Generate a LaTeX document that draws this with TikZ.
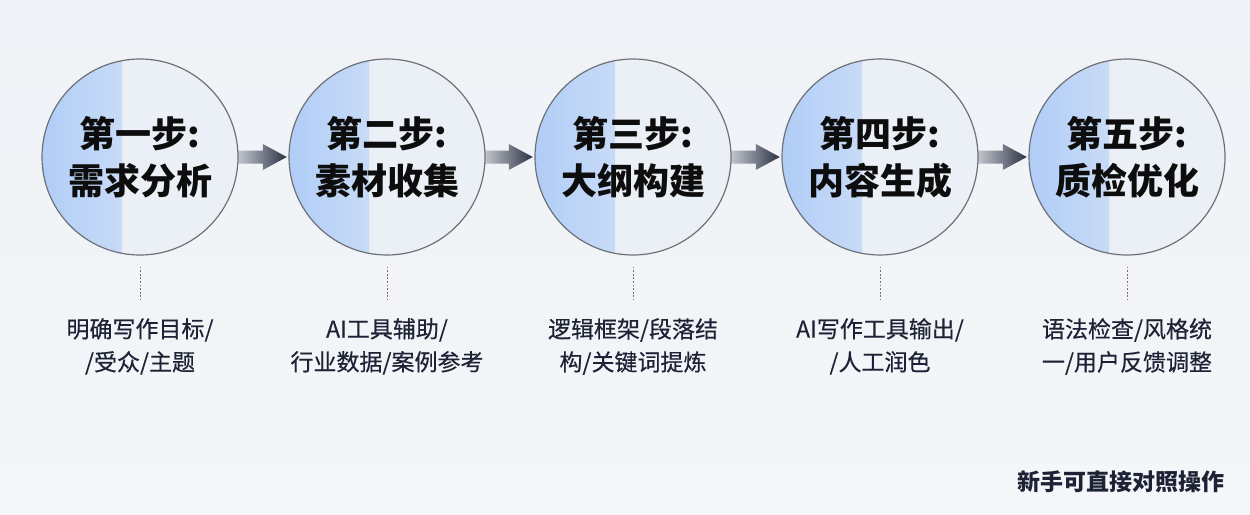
\documentclass[tikz,border=0pt]{standalone}
\usepackage{fontspec}
\setmainfont{Noto Sans CJK SC}
\newfontfamily\notefont[FakeBold=0.35]{Noto Sans CJK SC}
\usepackage{xcolor}
\usetikzlibrary{calc}

\definecolor{paperbg}{HTML}{F4F6F9}
\definecolor{paperbgtop}{HTML}{EFF2F6}
\definecolor{ringline}{HTML}{6E7176}
\definecolor{navytext}{HTML}{1D2235}
\definecolor{arrowdark}{HTML}{2D3345}
\definecolor{arrowlight}{HTML}{CDD1D8}
\definecolor{glowin}{HTML}{EBEFF6}
\definecolor{glowout}{HTML}{B0CDF7}

\tikzset{
  stepcirc/.style={circle, draw=ringline, line width=1.2pt, minimum size=196pt,
    inner sep=0pt, fill=glowin, align=center, text=black!95,
    font=\fontsize{36}{47}\selectfont\bfseries,
    % blue glow on the left rim
    path picture={\shade[left color=glowout, right color=glowin]
      (path picture bounding box.south west) rectangle ($(path picture bounding box.north west)+(80,0)$);}},
  stepnote/.style={anchor=north, inner sep=0pt, align=center, text=navytext,
    font=\fontsize{23}{33}\notefont},
  stemline/.style={draw=black!55, line width=0.7pt, dash pattern=on 1.8pt off 1.8pt,
    shorten <=11pt, shorten >=18pt}
}

\newcommand{\flowarrow}[2]{%
  \shade[left color=arrowlight, right color=arrowdark]
    ($(#1.east)+(-4,-6.5)$) -- ($(#2.west)+(-26,-6.5)$) -- ($(#2.west)+(-26,-13)$)
    -- ($(#2.west)+(-2,0)$) -- ($(#2.west)+(-26,13)$) -- ($(#2.west)+(-26,6.5)$)
    -- ($(#1.east)+(-4,6.5)$) -- cycle;}

\begin{document}
\begin{tikzpicture}[x=1pt,y=-1pt]

\useasboundingbox (0,0) rectangle (1250,514);
\shade[top color=paperbgtop, bottom color=paperbg] (0,0) rectangle (1250,514);

\coordinate (c1) at (140,157);
\coordinate (c2) at (387,157);
\coordinate (c3) at (633,157);
\coordinate (c4) at (880,157);
\coordinate (c5) at (1127,157);

% arrows go under the circles
\node[circle, minimum size=196pt, inner sep=0pt] (a1) at (c1) {};
\node[circle, minimum size=196pt, inner sep=0pt] (a2) at (c2) {};
\node[circle, minimum size=196pt, inner sep=0pt] (a3) at (c3) {};
\node[circle, minimum size=196pt, inner sep=0pt] (a4) at (c4) {};
\node[circle, minimum size=196pt, inner sep=0pt] (a5) at (c5) {};
\flowarrow{a1}{a2}
\flowarrow{a2}{a3}
\flowarrow{a3}{a4}
\flowarrow{a4}{a5}

\node[stepcirc] (s1) at (c1) {第一步:\\需求分析};
\node[stepcirc] (s2) at (c2) {第二步:\\素材收集};
\node[stepcirc] (s3) at (c3) {第三步:\\大纲构建};
\node[stepcirc] (s4) at (c4) {第四步:\\内容生成};
\node[stepcirc] (s5) at (c5) {第五步:\\质检优化};

\node[stepnote] (n1) at (140,318) {明确写作目标/\\/受众/主题};
\node[stepnote] (n2) at (387,318) {AI工具辅助/\\行业数据/案例参考};
\node[stepnote] (n3) at (633,318) {逻辑框架/段落结\\构/关键词提炼};
\node[stepnote] (n4) at (880,318) {AI写作工具输出/\\/人工润色};
\node[stepnote] (n5) at (1127,318) {语法检查/风格统\\一/用户反馈调整};

\draw[stemline] (s1.south) -- (n1.north);
\draw[stemline] (s2.south) -- (n2.north);
\draw[stemline] (s3.south) -- (n3.north);
\draw[stemline] (s4.south) -- (n4.north);
\draw[stemline] (s5.south) -- (n5.north);

\node[anchor=east, inner sep=0pt, text=navytext, font=\fontsize{23}{26}\selectfont\bfseries] (tip) at (1225,482) {新手可直接对照操作};

\end{tikzpicture}
\end{document}
